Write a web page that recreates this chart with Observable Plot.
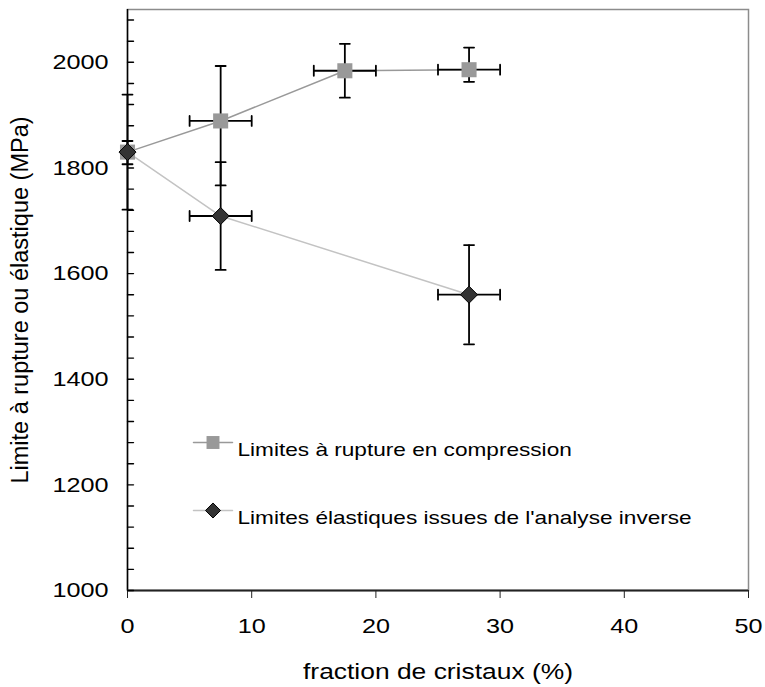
<!DOCTYPE html>
<html>
<head>
<meta charset="utf-8">
<script src="https://cdn.jsdelivr.net/npm/d3@7"></script>
<script src="https://cdn.jsdelivr.net/npm/@observablehq/plot@0.6"></script>
<style>
  html, body { margin: 0; padding: 0; background: #fff; }
  #chart { width: 765px; height: 687px; }
  #chart svg g[aria-label="x-axis tick label"], #chart svg g[aria-label="x-axis tick label"] text,
  #chart svg g[aria-label="y-axis tick label"], #chart svg g[aria-label="y-axis tick label"] text {
    font-size: 21px !important; fill: #000;
  }
  #chart svg g[aria-label="x-axis label"], #chart svg g[aria-label="x-axis label"] text {
    font-size: 22px !important; fill: #000;
  }
  #chart svg g[aria-label="y-axis label"], #chart svg g[aria-label="y-axis label"] text {
    font-size: 23.5px !important; fill: #000;
  }
</style>
</head>
<body>
<div id="chart"></div>
<script>
// ---- data ----
const ruptureFraction = [0, 7.5, 17.5, 27.5];
const ruptureValues   = [1830, 1889, 1984, 1986];
const ruptureLow      = [1721, 1767, 1933, 1963];
const ruptureHigh     = [1939, 1993, 2035, 2028];
const ruptureXErr     = [0, 2.5, 2.5, 2.5];

const elastFraction = [0, 7.5, 27.5];
const elastValues   = [1830, 1709, 1560];
const elastLow      = [1807, 1607, 1466];
const elastHigh     = [1851, 1811, 1654];
const elastXErr     = [0, 2.5, 2.5];

const xTicks = [0, 10, 20, 30, 40, 50];
const yLabelTicks = [1000, 1200, 1400, 1600, 1800, 2000];
const yMinorTicks = d3.range(1000, 2100, 40);

const seriesNames = ["Limites à rupture en compression", "Limites élastiques issues de l'analyse inverse"];
const xLabel = "fraction de cristaux (%)";
const yLabel = "Limite à rupture ou élastique (MPa)";

// ---- tables ----
const rupture = ruptureFraction.map((x, i) => ({x, y: ruptureValues[i], lo: ruptureLow[i], hi: ruptureHigh[i], xe: ruptureXErr[i]}));
const elast = elastFraction.map((x, i) => ({x, y: elastValues[i], lo: elastLow[i], hi: elastHigh[i], xe: elastXErr[i]}));
const all = rupture.concat(elast);
const withX = all.filter(d => d.xe > 0);

const lineShape = { draw(context, l) { context.moveTo(0, 0); context.lineTo(0, -l); } };
const diamond = { draw(context, size) { const d = Math.sqrt(size / 2); context.moveTo(0, -d); context.lineTo(d, 0); context.lineTo(0, d); context.lineTo(-d, 0); context.closePath(); } };

const sqColor = "#999999";
const diaFill = "#333333";
const errColor = "#000000";

const chart = Plot.plot({
  width: 765, height: 687,
  marginLeft: 127, marginRight: 17, marginTop: 9, marginBottom: 97,
  style: { fontFamily: "'Liberation Sans', Arial, sans-serif", fontSize: "19px", color: "#000", background: "#fff" },
  x: { domain: [0, 50] },
  y: { domain: [1000, 2100] },
  marks: [
    Plot.frame({ stroke: "#8c8c8c", strokeWidth: 1.5 }),
    Plot.ruleX([0], { stroke: "#000", strokeWidth: 1.5 }),
    Plot.ruleY([1000], { stroke: "#222", strokeWidth: 1.8 }),
    Plot.axisX({ ticks: xTicks, tickSize: 8, tickPadding: 20, stroke: "#222", tickFormat: d => String(d), label: xLabel, labelAnchor: "center", labelArrow: "none", labelOffset: 88 }),
    Plot.axisY({ ticks: yLabelTicks, tickSize: 0, tickPadding: 19, tickFormat: d => String(d), label: yLabel, labelAnchor: "center", labelArrow: "none", labelOffset: 116 }),
    Plot.vector(yMinorTicks, { x: () => 0, y: d => d, rotate: 90, length: 6, anchor: "start", shape: lineShape, stroke: "#000", strokeWidth: 1.4 }),
    // series lines
    Plot.line(rupture, { x: "x", y: "y", stroke: sqColor, strokeWidth: 1.5 }),
    Plot.line(elast, { x: "x", y: "y", stroke: "#c3c3c3", strokeWidth: 1.5 }),
    // error bars vertical
    Plot.ruleX(all, { x: "x", y1: "lo", y2: "hi", stroke: errColor, strokeWidth: 1.8 }),
    Plot.vector(all, { x: "x", y: "lo", rotate: 90, length: 10, anchor: "middle", shape: lineShape, stroke: errColor, strokeWidth: 1.8 }),
    Plot.vector(all, { x: "x", y: "hi", rotate: 90, length: 10, anchor: "middle", shape: lineShape, stroke: errColor, strokeWidth: 1.8 }),
    // error bars horizontal
    Plot.ruleY(withX, { y: "y", x1: d => d.x - d.xe, x2: d => d.x + d.xe, stroke: errColor, strokeWidth: 1.8 }),
    Plot.vector(withX, { x: d => d.x - d.xe, y: "y", rotate: 0, length: 10, anchor: "middle", shape: lineShape, stroke: errColor, strokeWidth: 1.8 }),
    Plot.vector(withX, { x: d => d.x + d.xe, y: "y", rotate: 0, length: 10, anchor: "middle", shape: lineShape, stroke: errColor, strokeWidth: 1.8 }),
    // markers
    Plot.dot(rupture, { x: "x", y: "y", symbol: "square", r: 8.5, fill: sqColor, stroke: "none" }),
    Plot.dot(elast, { x: "x", y: "y", symbol: diamond, r: 6.8, fill: diaFill, stroke: "#000", strokeWidth: 1 }),
    // legend
    Plot.vector([0], { frameAnchor: "top-left", dx: 66, dy: 433, rotate: 90, length: 39, anchor: "start", shape: lineShape, stroke: sqColor, strokeWidth: 1.5 }),
    Plot.dot([0], { frameAnchor: "top-left", dx: 85.5, dy: 433, symbol: "square", r: 7.3, fill: sqColor, stroke: "none" }),
    Plot.text([seriesNames[0]], { frameAnchor: "top-left", dx: 110, dy: 433, text: d => d, textAnchor: "start", fontSize: 19, fill: "#000", className: "legend-text" }),
    Plot.vector([0], { frameAnchor: "top-left", dx: 66, dy: 501, rotate: 90, length: 39, anchor: "start", shape: lineShape, stroke: "#c3c3c3", strokeWidth: 1.5 }),
    Plot.dot([0], { frameAnchor: "top-left", dx: 85.5, dy: 501, symbol: diamond, r: 6.0, fill: diaFill, stroke: "#000", strokeWidth: 1 }),
    Plot.text([seriesNames[1]], { frameAnchor: "top-left", dx: 110, dy: 501, text: d => d, textAnchor: "start", fontSize: 19, fill: "#000", className: "legend-text" })
  ]
});
document.getElementById("chart").appendChild(chart);

// the reference's horizontal text is slightly wider than the font's natural width
function stretch(selector, factor) {
  chart.querySelectorAll(selector).forEach(el => {
    const w = el.getComputedTextLength();
    el.setAttribute("textLength", (w * factor).toFixed(1));
    el.setAttribute("lengthAdjust", "spacingAndGlyphs");
  });
}
stretch('g[aria-label="x-axis tick label"] text', 1.2);
stretch('g[aria-label="y-axis tick label"] text', 1.2);
stretch('g[aria-label="x-axis label"] text', 1.2);
stretch('.legend-text text', 1.19);
</script>
</body>
</html>
